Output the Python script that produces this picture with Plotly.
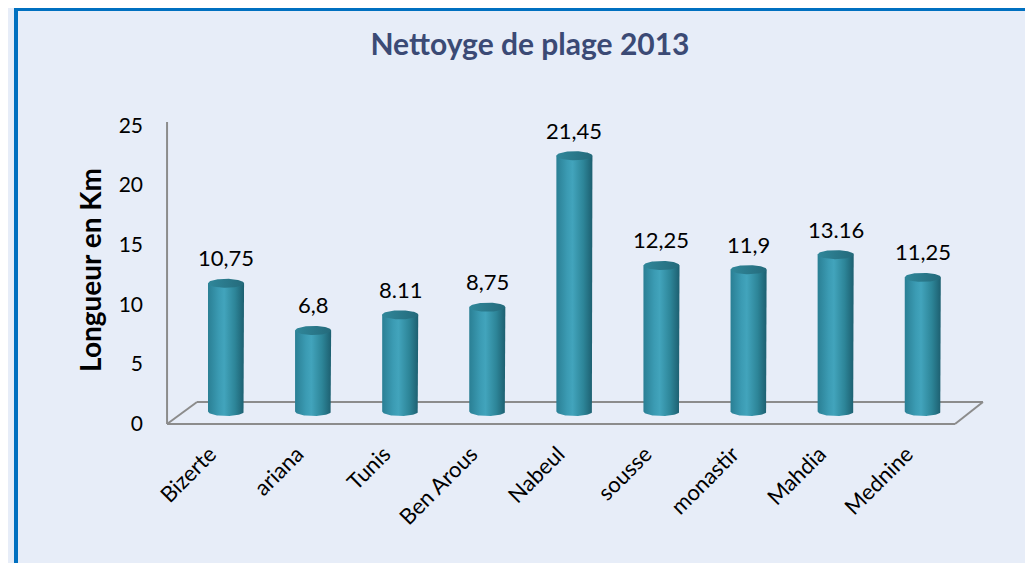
import numpy as np
import plotly.graph_objects as go

# ---------------- data ----------------
categories = ["Bizerte", "ariana", "Tunis", "Ben Arous", "Nabeul",
              "sousse", "monastir", "Mahdia", "Mednine"]
values = [10.75, 6.8, 8.11, 8.75, 21.45, 12.25, 11.9, 13.16, 11.25]
value_labels = ["10,75", "6,8", "8.11", "8,75", "21,45",
                "12,25", "11,9", "13.16", "11,25"]
y_ticks = [0, 5, 10, 15, 20, 25]

# ---------------- styling / geometry ----------------
FONT = "Lato"
BG = "#E7EDF8"
HALF_W = 0.207      # half bar width in category units
ELL_H = 0.38        # half ellipse height in value units

body_scale = [[0, "#2A7F94"], [0.3, "#3B9BB3"], [0.45, "#42A4BC"],
              [0.75, "#2D8598"], [1, "#1D5F70"]]
top_scale = [[0, "#30879A"], [1, "#246A7B"]]

fig = go.Figure()

t_half = np.linspace(0, np.pi, 40)
t_full = np.linspace(0, 2 * np.pi, 90)

for i, v in enumerate(values):
    xs = [i - HALF_W, i - HALF_W, i + HALF_W, i + HALF_W] + list(i + HALF_W * np.cos(t_half))
    ys = [0, v, v, 0] + list(-ELL_H * np.sin(t_half))
    fig.add_trace(go.Scatter(
        x=xs, y=ys, mode="lines", fill="toself",
        line=dict(width=0, color="rgba(0,0,0,0)"),
        fillgradient=dict(type="horizontal", colorscale=body_scale),
        hoverinfo="skip", showlegend=False))
    fig.add_trace(go.Scatter(
        x=list(i + HALF_W * np.cos(t_full)), y=list(v + ELL_H * np.sin(t_full)),
        mode="lines", fill="toself",
        line=dict(width=0, color="rgba(0,0,0,0)"),
        fillgradient=dict(type="horizontal", colorscale=top_scale),
        hoverinfo="skip", showlegend=False))

for i, (v, lab) in enumerate(zip(values, value_labels)):
    fig.add_annotation(x=i, y=v, text=lab, showarrow=False, yanchor="bottom",
                       yshift=10, font=dict(family=FONT, size=22, color="#000000"))

# 3D floor / wall lines (decorative)
GRAY = "#8C8C8C"
xl, xr = -0.677, 8.370
xbl, xbr = -0.333, 8.691
yf, yb, ytop = -1.049, 0.797, 24.29
for (x0, y0, x1, y1) in [(xl, ytop, xl, yf), (xl, yf, xr, yf), (xbl, yb, xbr, yb),
                         (xl, yf, xbl, yb), (xr, yf, xbr, yb)]:
    fig.add_shape(type="line", x0=x0, y0=y0, x1=x1, y1=y1, xref="x", yref="y",
                  line=dict(color=GRAY, width=2), layer="below")

# blue frame
fig.add_shape(type="rect", xref="paper", yref="paper",
              x0=-0.1735, y0=-0.6, x1=1.2, y1=1.3156,
              line=dict(color="#0070C0", width=4), layer="below")

fig.update_layout(
    width=1033, height=563,
    margin=dict(l=152, r=51, t=102, b=141),
    paper_bgcolor=BG, plot_bgcolor=BG,
    showlegend=False,
    title=dict(text="<b>Nettoyge de plage 2013</b>", xref="container", yref="container",
               x=522 / 1033, y=1 - 36 / 563, xanchor="center", yanchor="middle",
               font=dict(family=FONT, size=30, color="#3B4A75")),
    xaxis=dict(range=[-0.758, 8.772], tickmode="array", tickvals=list(range(len(categories))),
               ticktext=categories, tickangle=-45, showgrid=False, zeroline=False,
               showline=False, ticks="", ticklabelstandoff=6, ticklabelshift=-16,
               tickfont=dict(family=FONT, size=22, color="#000000")),
    yaxis=dict(range=[-1.552, 25.29], tickmode="array", tickvals=y_ticks,
               showgrid=False, zeroline=False, showline=False, ticks="",
               ticklabelstandoff=16, ticklabelshift=12,
               tickfont=dict(family=FONT, size=21, color="#000000"),
               title=dict(text="<b>Longueur en Km</b>", standoff=8,
                          font=dict(family=FONT, size=28, color="#000000"))),
)

fig.write_html("out.html")
